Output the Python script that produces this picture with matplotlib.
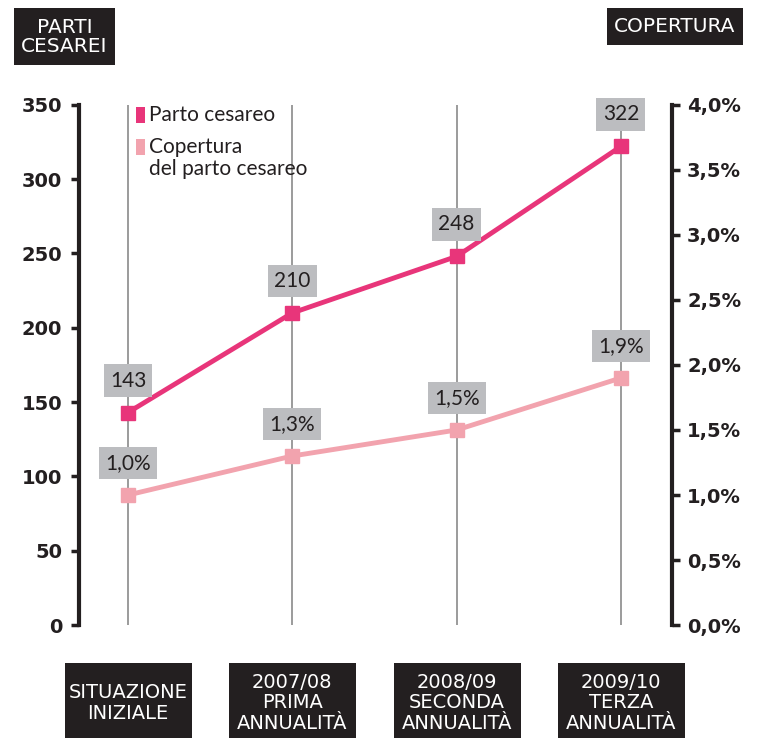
import matplotlib.pyplot as plt
from matplotlib.ticker import FixedLocator

# dati
categorie = ['SITUAZIONE\nINIZIALE', '2007/08\nPRIMA\nANNUALITÀ',
             '2008/09\nSECONDA\nANNUALITÀ', '2009/10\nTERZA\nANNUALITÀ']
parti_cesarei = [143, 210, 248, 322]
copertura = [1.0, 1.3, 1.5, 1.9]
etichette_copertura = ['1,0%', '1,3%', '1,5%', '1,9%']
tick_sx = [0, 50, 100, 150, 200, 250, 300, 350]
tick_dx = [0.0, 0.5, 1.0, 1.5, 2.0, 2.5, 3.0, 3.5, 4.0]
tick_dx_label = ['0,0%', '0,5%', '1,0%', '1,5%', '2,0%', '2,5%', '3,0%', '3,5%', '4,0%']

ROSA = '#e8357a'
ROSA_CHIARO = '#f2a3ae'
NERO = '#231f20'
GRIGIO_BOX = '#bcbdc0'

FONT_NUM = ['DejaVu Sans']
FONT_COND = ['Liberation Sans Narrow', 'DejaVu Sans']
FONT_TXT = ['Lato', 'DejaVu Sans']

W, H = 762, 738
fig = plt.figure(figsize=(W / 100, H / 100), dpi=100)
ax = fig.add_axes([0.1037, 0.153, 0.778, 0.705])
ax2 = ax.twinx()

x = list(range(len(categorie)))
ax.set_xlim(-0.298, 3.31)
ax.set_ylim(0, 350)
ax2.set_ylim(0, 4.0)

# linee verticali di riferimento
for xi in x:
    ax.axvline(xi, color='#8a8a8a', lw=1.2, zorder=1)

ax.plot(x, parti_cesarei, color=ROSA, lw=3.5, marker='s', ms=10,
        mec=ROSA, zorder=3)
ax2.plot(x, copertura, color=ROSA_CHIARO, lw=3.5, marker='s', ms=10,
         mec=ROSA_CHIARO, zorder=3)

box = dict(boxstyle='square,pad=0.3', fc=GRIGIO_BOX, ec='none')
for xi, v in zip(x, parti_cesarei):
    ax.annotate(str(v), (xi, v), xytext=(0, 23), textcoords='offset points',
                ha='center', va='center', fontsize=15, color=NERO,
                family=FONT_TXT, bbox=box, zorder=4)
for xi, v, t in zip(x, copertura, etichette_copertura):
    ax2.annotate(t, (xi, v), xytext=(0, 23), textcoords='offset points',
                 ha='center', va='center', fontsize=15, color=NERO,
                 family=FONT_TXT, bbox=box, zorder=4)

# assi
for a in (ax, ax2):
    for s in ('top', 'bottom'):
        a.spines[s].set_visible(False)
    a.set_xticks([])
ax.spines['right'].set_visible(False)
ax2.spines['left'].set_visible(False)
ax.spines['left'].set_linewidth(3)
ax.spines['left'].set_color(NERO)
ax2.spines['right'].set_linewidth(3)
ax2.spines['right'].set_color(NERO)

ax.yaxis.set_major_locator(FixedLocator(tick_sx))
ax.set_yticklabels([str(t) for t in tick_sx])
ax2.yaxis.set_major_locator(FixedLocator(tick_dx))
ax2.set_yticklabels(tick_dx_label)
ax.tick_params(axis='y', length=6, width=2.5, color=NERO, pad=6)
ax2.tick_params(axis='y', length=6, width=2.5, color=NERO, pad=5)
for lab in ax.get_yticklabels() + ax2.get_yticklabels():
    lab.set_family(FONT_NUM)
    lab.set_fontweight('bold')
    lab.set_fontsize(14)
    lab.set_color(NERO)


def px_rect(x0, y0, w, h, **kw):
    # rettangolo in pixel misurati dall'alto a sinistra
    r = plt.Rectangle((x0 / W, 1 - (y0 + h) / H), w / W, h / H,
                      transform=fig.transFigure, ec='none', **kw)
    fig.patches.append(r)


# legenda
px_rect(136, 107, 9, 16, fc=ROSA)
px_rect(136, 139, 9, 16, fc=ROSA_CHIARO)
fig.text(149 / W, 1 - 115 / H, 'Parto cesareo', color=NERO, fontsize=15,
         va='center', family=FONT_TXT)
fig.text(149 / W, 1 - 147 / H, 'Copertura', color=NERO, fontsize=15,
         va='center', family=FONT_TXT)
fig.text(149 / W, 1 - 169 / H, 'del parto cesareo', color=NERO, fontsize=15,
         va='center', family=FONT_TXT)

# titoli degli assi in riquadri neri
px_rect(14, 8, 101, 57, fc=NERO)
fig.text(64.5 / W, 1 - 37 / H, 'PARTI\nCESAREI', color='white', fontsize=14.5,
         ha='center', va='center', family=FONT_COND, linespacing=1.05)
px_rect(607, 8, 136, 37, fc=NERO)
fig.text(675 / W, 1 - 27 / H, 'COPERTURA', color='white', fontsize=14.5,
         ha='center', va='center', family=FONT_COND)

# categorie sotto il grafico
for xi, c in zip(x, categorie):
    xp = ax.transData.transform((xi, 0))[0]
    px_rect(xp - 63, 663, 127, 75, fc=NERO)
    fig.text(xp / W, 1 - 703 / H, c, color='white', fontsize=14,
             ha='center', va='center', family=FONT_COND, linespacing=1.1)

fig.savefig('out.png', dpi=100)
